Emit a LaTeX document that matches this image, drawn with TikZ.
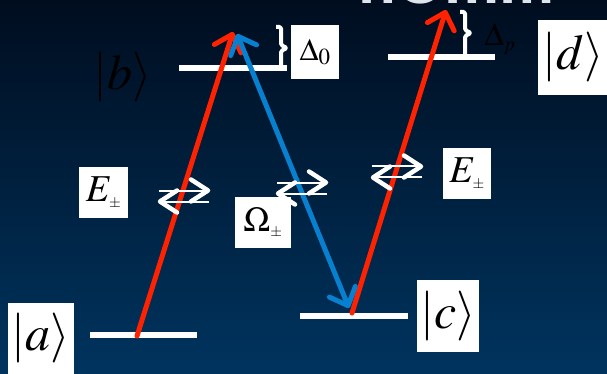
\documentclass[tikz,border=0pt]{standalone}
\usepackage{mathptmx}
\usepackage{fontspec}
\newfontfamily\titlefont{Liberation Sans}
\usetikzlibrary{arrows.meta}
\definecolor{bgtop}{RGB}{0,13,31}
\definecolor{bgbot}{RGB}{0,52,95}
\definecolor{lred}{RGB}{255,34,0}
\definecolor{lblue}{RGB}{8,128,208}
\definecolor{titlegray}{RGB}{222,228,236}
\newcommand{\smpm}{\hbox{\fontsize{15}{15}\selectfont$\pm$}}
\tikzset{
  level/.style={draw=white, line width=6},
  bracestyle/.style={draw=white, line width=4, line join=round, rounded corners=1.5},
  redarrow/.style={draw=lred, line width=5, line cap=round, -{Straight Barb[round,length=15pt,width=28pt]}},
  bluearrow/.style={draw=lblue, line width=5, line cap=round, {Straight Barb[round,length=15pt,width=28pt]}-{Straight Barb[round,length=15pt,width=28pt]}},
  ketbox/.style={fill=white, inner sep=0pt, text=black},
  labbox/.style={fill=white, inner sep=0pt, text=black},
  exch/.pic={
    \draw[white, line width=2] (-25,-5.5) -- (24,-5.5);
    \draw[white, line width=2] (25,5.5) -- (-24,5.5);
    \draw[white, line width=4.5, line cap=round, line join=round] (7,-16.5) -- (24,-5.5) -- (7,5.5);
    \draw[white, line width=4.5, line cap=round, line join=round] (-7,-5.5) -- (-24,5.5) -- (-7,16.5);
  }
}
\begin{document}
\begin{tikzpicture}[x=1pt,y=-1pt]
\useasboundingbox (0,0) rectangle (607,374);
\shade[top color=bgtop, bottom color=bgbot] (0,0) rectangle (607,374);
% cropped title
\node[anchor=base west, text=titlegray, inner sep=0pt,
      font=\titlefont\bfseries\fontsize{62}{62}\selectfont] (title) at (358,3.5) {nOmm};
% levels
\coordinate (aL) at (90,335);  \coordinate (aR) at (197,335);
\coordinate (bL) at (179,68);  \coordinate (bR) at (287,68);
\coordinate (cL) at (300,316); \coordinate (cR) at (408,316);
\coordinate (dL) at (388,57);  \coordinate (dR) at (495,57);
\draw[level] (aL) -- (aR);
\draw[level] (bL) -- (bR);
\draw[level] (cL) -- (cR);
\draw[level] (dL) -- (dR);
% detuning braces
\draw[bracestyle] (276,27) -- (281,27) -- (281,45) -- (287,48) -- (281,51) -- (281,66);
\draw[bracestyle] (460,12) -- (465,12) -- (465,30) -- (471,33) -- (465,36) -- (465,55);
% transitions
\coordinate (r1s) at (137,336); \coordinate (r1e) at (233,32);
\coordinate (bs) at (237,34);   \coordinate (be) at (349,308);
\coordinate (r2s) at (352,313); \coordinate (r2e) at (446,10);
\draw[redarrow] (r1s) -- (r1e);
\draw[redarrow] (r2s) -- (r2e);
\draw[bluearrow] (bs) -- (be);
% exchange symbols
\pic at (184,196) {exch};
\pic at (302,188) {exch};
\pic at (397,172) {exch};
% ket labels
\node[ketbox, minimum width=66, minimum height=71, font=\fontsize{50}{50}\selectfont] (ka) at (41,338.5) {$|a\rangle$};
\node[ketbox, minimum width=62, minimum height=72, font=\fontsize{50}{50}\selectfont] (kc) at (448,316) {$|c\rangle$};
\node[ketbox, minimum width=70, minimum height=75, font=\fontsize{50}{50}\selectfont] (kd) at (573,57.5) {$|d\rangle$};
\node[text=black, inner sep=0pt, font=\fontsize{50}{50}\selectfont] (kb) at (123,77) {$|b\rangle$};
% field labels
\node[labbox, minimum width=49, minimum height=51, font=\fontsize{38}{38}\selectfont] (E1) at (103.5,192.5) {$E_{\smpm}$};
\node[labbox, minimum width=56, minimum height=51, font=\fontsize{35}{35}\selectfont] (Om) at (263,222.5) {$\Omega_{\smpm}$};
\node[labbox, minimum width=48, minimum height=51, font=\fontsize{38}{38}\selectfont] (E2) at (467,173.5) {$E_{\smpm}$};
\node[labbox, minimum width=48, minimum height=54, font=\fontsize{31}{31}\selectfont] (D0) at (315,52) {$\Delta_0$};
\node[text=black, inner sep=0pt, font=\fontsize{32}{32}\selectfont] (Dp) at (500,39) {$\Delta_{\scriptscriptstyle p}$};
\end{tikzpicture}
\end{document}
